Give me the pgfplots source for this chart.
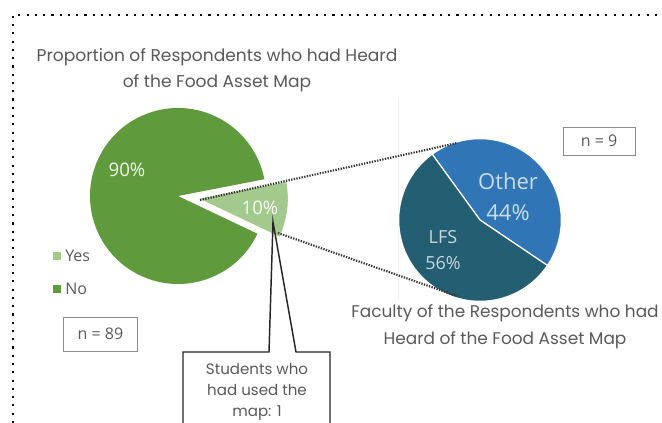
\documentclass[border=0pt]{standalone}
\usepackage{pgfplots}
\pgfplotsset{compat=1.18}
\usepackage{fontspec}
\setmainfont{Poppins}
\newfontfamily\os{Open Sans}

\definecolor{nogreen}{HTML}{5F9B3C}
\definecolor{yesgreen}{HTML}{A3C98C}
\definecolor{lfsteal}{HTML}{245E72}
\definecolor{otherblue}{HTML}{3075B5}
\definecolor{txtgray}{HTML}{595959}

% counts
\def\nYes{9}
\def\nNo{80}
\def\nLFS{5}
\def\nOther{4}

\begin{document}
\begin{tikzpicture}
% --- angles of the slices ---
\pgfmathsetmacro\aYes{360*\nYes/(\nYes+\nNo)}
\pgfmathsetmacro\sYes{11}
\pgfmathsetmacro\eYes{\sYes-\aYes}
\pgfmathsetmacro\mYes{\sYes-\aYes/2}
\pgfmathsetmacro\aOther{360*\nOther/(\nLFS+\nOther)}
\pgfmathsetmacro\sOther{126}
\pgfmathsetmacro\eOther{\sOther-\aOther}
\begin{axis}[
    x=0.75pt, y=0.75pt,
    xmin=0, xmax=662, ymin=0, ymax=423,
    y dir=reverse,
    hide axis,
    clip=true
]
\path (axis cs:0,0) rectangle (axis cs:662,423);

% --- dotted frame ---
\draw[black, line width=1.6pt, dash pattern=on 1.6pt off 4.6pt, line cap=butt]
    (axis cs:13,423) -- (axis cs:13,15) -- (axis cs:662,15);

% faint plot-area edge of the second chart
\draw[black!6, line width=0.6pt] (axis cs:398,98) -- (axis cs:398,300);

% --- left pie ---
\fill[nogreen] (axis cs:178,196) -- ++(\eYes:66pt)
    arc[start angle=\eYes, end angle=\sYes-360, radius=66pt] -- cycle;
\fill[yesgreen] (axis cs:178,196) ++(\mYes:16.5pt) -- ++(\sYes:66pt)
    arc[start angle=\sYes, end angle=\eYes, radius=66pt] -- cycle;

% --- right pie ---
\fill[otherblue, draw=white, line width=0.9pt] (axis cs:480,220) -- ++(\sOther:61pt)
    arc[start angle=\sOther, end angle=\eOther, radius=61pt] -- cycle;
\fill[lfsteal, draw=white, line width=0.9pt] (axis cs:480,220) -- ++(\eOther:61pt)
    arc[start angle=\eOther, end angle=\sOther-360, radius=61pt] -- cycle;

% --- connectors ---
\draw[black!80, line width=1.6pt, dash pattern=on 1pt off 1pt]
    (axis cs:200,200) -- (axis cs:457,143);
\draw[black!80, line width=1.6pt, dash pattern=on 1pt off 1pt]
    (axis cs:278,233) -- (axis cs:457,296);

% --- slice labels ---
\node[text=white!92!nogreen, font=\os\fontsize{14}{16}\selectfont] at (axis cs:127,170) {90\%};
\node[text=white!90!yesgreen, font=\os\fontsize{14}{16}\selectfont] at (axis cs:260,208) {10\%};
\node[text=white!75!otherblue, align=center, font=\os\fontsize{16.5}{23}\selectfont] at (axis cs:508,197) {Other\\44\%};
\node[text=white!75!lfsteal, align=center, font=\os\fontsize{13.5}{19.5}\selectfont] at (axis cs:443,250) {LFS\\56\%};

% --- legend ---
\fill[yesgreen] (axis cs:53,252) rectangle (axis cs:61,260);
\fill[nogreen] (axis cs:53,285) rectangle (axis cs:61,293);
\node[anchor=west, text=txtgray, inner sep=0pt, font=\os\fontsize{12}{13}\selectfont] at (axis cs:65,256) {Yes};
\node[anchor=west, text=txtgray, inner sep=0pt, font=\os\fontsize{12}{13}\selectfont] at (axis cs:65,289) {No};

% --- titles ---
\node[text=txtgray, align=center, font=\fontsize{12.8}{19.5}\selectfont] at (axis cs:217,70)
    {Proportion of Respondents who had Heard\\of the Food Asset Map};
\node[text=txtgray, align=center, font=\fontsize{12.7}{20}\selectfont] at (axis cs:505,327)
    {Faculty of the Respondents who had\\Heard of the Food Asset Map};

% --- n boxes ---
\node[draw=black!45, line width=0.6pt, text=txtgray, minimum width=55pt, minimum height=25.5pt,
      font=\os\fontsize{12}{14}\selectfont] at (axis cs:100.5,334) {n = 89};
\node[draw=black!45, line width=0.6pt, text=txtgray, minimum width=54pt, minimum height=21pt,
      font=\os\fontsize{12}{14}\selectfont] at (axis cs:599,141) {n = 9};

% --- callout ---
\fill[white] (axis cs:183,352) rectangle (axis cs:330,430);
\draw[black!85, line width=1.1pt, line join=miter]
    (axis cs:183,430) -- (axis cs:183,352) -- (axis cs:269,352) -- (axis cs:273,222)
    -- (axis cs:296,352) -- (axis cs:330,352) -- (axis cs:330,430);
\node[text=txtgray, align=center, font=\fontsize{11.3}{16}\selectfont] at (axis cs:257,392)
    {Students who\\had used the\\map: 1};
\end{axis}
\end{tikzpicture}
\end{document}
